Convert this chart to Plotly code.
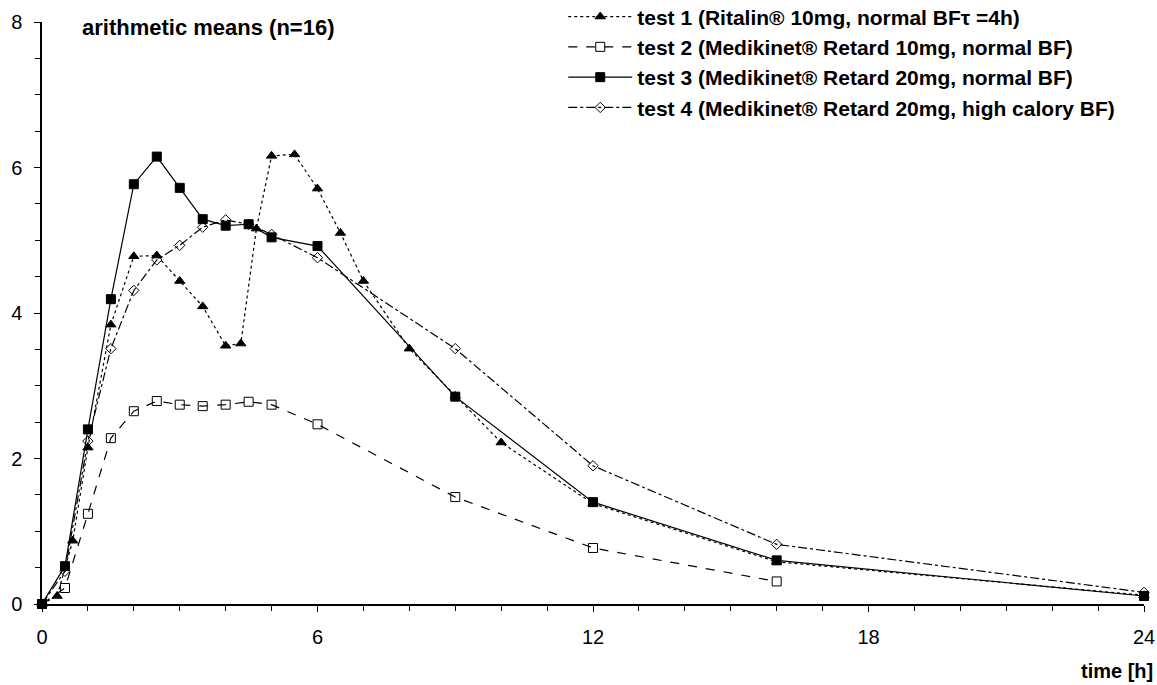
import plotly.graph_objects as go

# ---- data ----
t1_x = [0, 0.33, 0.67, 1, 1.5, 2, 2.5, 3, 3.5, 4, 4.33, 4.67, 5, 5.5, 6, 6.5, 7, 8, 9, 10, 12, 16, 24]
t1_y = [0, 0.11, 0.87, 2.15, 3.84, 4.78, 4.79, 4.44, 4.09, 3.55, 3.58, 5.16, 6.16, 6.18, 5.71, 5.10, 4.44, 3.51, 2.86, 2.22, 1.38, 0.58, 0.12]

t2_x = [0, 0.5, 1, 1.5, 2, 2.5, 3, 3.5, 4, 4.5, 5, 6, 9, 12, 16]
t2_y = [0, 0.22, 1.24, 2.28, 2.65, 2.79, 2.74, 2.72, 2.74, 2.78, 2.74, 2.47, 1.47, 0.77, 0.31]

t3_x = [0, 0.5, 1, 1.5, 2, 2.5, 3, 3.5, 4, 4.5, 5, 6, 9, 12, 16, 24]
t3_y = [0, 0.52, 2.40, 4.19, 5.77, 6.15, 5.72, 5.29, 5.20, 5.22, 5.04, 4.92, 2.85, 1.40, 0.60, 0.11]

t4_x = [0, 0.5, 1, 1.5, 2, 2.5, 3, 3.5, 4, 4.5, 5, 6, 9, 12, 16, 24]
t4_y = [0, 0.45, 2.24, 3.51, 4.31, 4.73, 4.93, 5.18, 5.28, 5.22, 5.08, 4.76, 3.51, 1.90, 0.82, 0.16]

names = [
    "test 1 (Ritalin® 10mg, normal BFτ =4h)",
    "test 2 (Medikinet® Retard 10mg, normal BF)",
    "test 3 (Medikinet® Retard 20mg, normal BF)",
    "test 4 (Medikinet® Retard 20mg, high calory BF)",
]

x_ticks = [0, 6, 12, 18, 24]
y_ticks = [0, 2, 4, 6, 8]

FONT = "Liberation Sans, Arial, sans-serif"

fig = go.Figure()
styles = [
    (t1_x, t1_y, "dot", "triangle-up", 9, "black"),
    (t2_x, t2_y, "dash", "square-open", 9, "black"),
    (t3_x, t3_y, "solid", "square", 9, "black"),
    (t4_x, t4_y, "dashdot", "diamond-open", 8, "black"),
]
for i, (xs, ys, dash, sym, size, col) in enumerate(styles):
    fig.add_trace(go.Scatter(
        x=xs, y=ys, mode="lines+markers", name=names[i],
        legendgroup=f"g{i}",
        line=dict(color="black", width=1.2, dash=dash),
        marker=dict(symbol=sym, size=size, color=col,
                    line=dict(color="black", width=1)),
        cliponaxis=False,
    ))

fig.update_layout(
    width=1157, height=685,
    paper_bgcolor="white", plot_bgcolor="white",
    margin=dict(l=42, r=13, t=22, b=81, autoexpand=False),
    font=dict(family=FONT, color="black", size=20),
    showlegend=True,
    legend=dict(
        x=0.473, y=1.044, xanchor="left", yanchor="top",
        font=dict(family=FONT, size=21, color="black", weight="bold"),
        bgcolor="rgba(0,0,0,0)", traceorder="grouped", tracegroupgap=0,
        itemwidth=64,
    ),
    xaxis=dict(
        range=[0, 24], tickvals=x_ticks, ticktext=[str(v) for v in x_ticks],
        showgrid=False, zeroline=False, showline=True, linecolor="black", linewidth=1.5,
        ticks="outside", ticklen=6, tickcolor="black", tickwidth=1,
        minor=dict(dtick=1, ticks="outside", ticklen=5, tickcolor="black", showgrid=False),
        tickfont=dict(family=FONT, size=20, color="black"),
        ticklabelstandoff=8, automargin=False,
    ),
    yaxis=dict(
        range=[0, 8], tickvals=y_ticks, ticktext=[str(v) for v in y_ticks],
        showgrid=False, zeroline=False, showline=True, linecolor="black", linewidth=1.5,
        ticks="outside", ticklen=6, tickcolor="black", tickwidth=1,
        minor=dict(dtick=0.5, ticks="outside", ticklen=5, tickcolor="black", showgrid=False),
        tickfont=dict(family=FONT, size=20, color="black"),
        ticklabelstandoff=8, automargin=False,
    ),
    annotations=[
        dict(text="<b>arithmetic means (n=16)</b>", xref="paper", yref="paper",
             x=(80 - 42) / 1102, y=1 - (28 - 22) / 582, xanchor="left", yanchor="middle",
             showarrow=False, font=dict(family=FONT, size=22, color="black")),
        dict(text="<b>time [h]</b>", xref="paper", yref="paper",
             x=(1155 - 42) / 1102, y=-(671 - 604) / 582, xanchor="right", yanchor="middle",
             showarrow=False, font=dict(family=FONT, size=20, color="black")),
    ],
)

fig.write_html(
    "out.html",
    config={"displayModeBar": False},
    post_script="document.body.style.margin='0';document.body.style.overflow='hidden';",
)
